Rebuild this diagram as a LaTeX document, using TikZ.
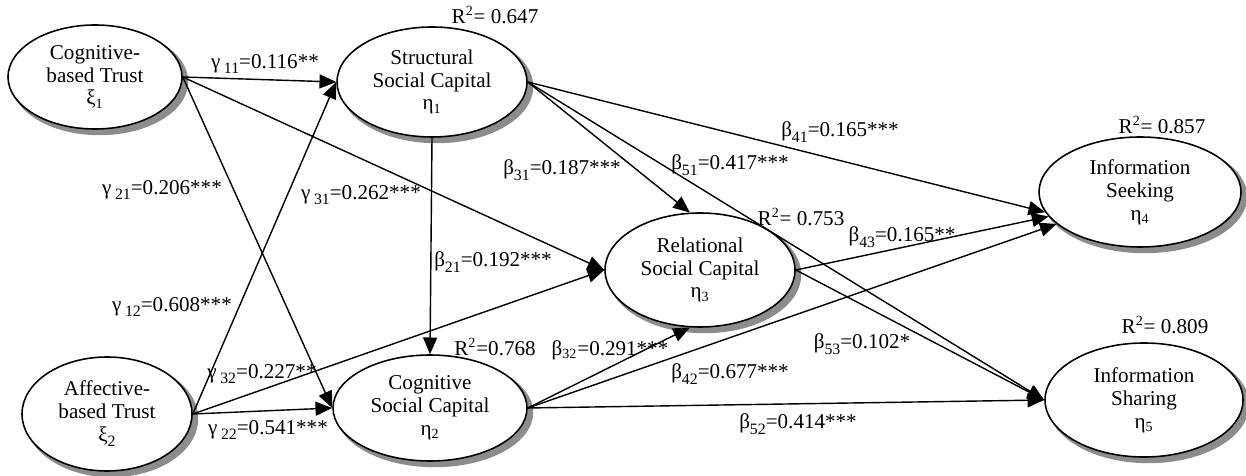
\documentclass[tikz,border=0pt]{standalone}
\usepackage{fontspec}
\setmainfont{Liberation Serif}
\usetikzlibrary{shapes.geometric,arrows.meta,calc,backgrounds}
\newcommand{\lowsub}[1]{\raisebox{-0.55ex}{\fontsize{9}{9}\selectfont #1}}
\begin{document}
\begin{tikzpicture}[font=\fontsize{12}{13}\selectfont, line join=round, >={Triangle[length=9.5pt,width=8pt]},
	latent/.style={ellipse, draw, line width=0.9pt, fill=white, inner sep=0pt, align=center},
	coef/.style={inner sep=0pt}]
	\useasboundingbox (0,0) rectangle (24.92,9.5);
	% latent variables
	\node[latent, minimum width=3.48cm, minimum height=2.08cm] (xi1) at (1.90,7.96) {Cognitive-\\based Trust\\ξ\textsubscript{1}};
	\node[latent, minimum width=3.40cm, minimum height=2.28cm] (xi2) at (2.14,1.22) {Affective-\\based Trust\\ξ\lowsub{2}};
	\node[latent, minimum width=3.80cm, minimum height=2.20cm] (eta1) at (8.64,7.86) {Structural\\Social Capital\\η\textsubscript{1}};
	\node[latent, minimum width=3.88cm, minimum height=2.12cm] (eta2) at (8.60,1.34) {Cognitive\\Social Capital\\η\textsubscript{2}};
	\node[latent, minimum width=3.80cm, minimum height=2.28cm] (eta3) at (14.00,4.10) {Relational\\Social Capital\\η\textsubscript{3}};
	\node[latent, minimum width=4.04cm, minimum height=2.20cm] (eta4) at (22.80,5.66) {Information\\Seeking\\η\textsubscript{4}};
	\node[latent, minimum width=3.96cm, minimum height=2.28cm] (eta5) at (22.88,1.50) {Information\\Sharing\\η\textsubscript{5}};
	% shadows
	\begin{scope}[on background layer]
	\foreach \v in {xi1,xi2,eta1,eta2,eta3,eta4,eta5}
	\fill[black!45] let \p1=(\v.center), \p2=(\v.east), \p3=(\v.north) in
		(\x1+2.6pt,\y1-2.6pt) ellipse ({\x2-\x1+0.5pt} and {\y3-\y1+0.5pt});
	\end{scope}
	% paths
	\foreach \a/\b in {xi1.east/eta1.west, xi1.east/eta2.west, xi1.east/eta3.west,
		xi2.east/eta1.west, xi2.east/eta2.west, xi2.east/eta3.west,
		eta1.south/eta2.north, eta1.east/eta3.100, eta1.east/eta4.192, eta1.east/eta5.west,
		eta2.east/eta3.260, eta2.east/eta4.201, eta2.east/eta5.west,
		eta3.east/eta4.195, eta3.east/eta5.west}
	\draw[->, line width=0.8pt] (\a) -- (\b);
	% coefficients
	\node[coef] (g11) at (5.30,8.22) {γ\,\lowsub{11}=0.116**};
	\node[coef] (g21) at (3.24,5.70) {γ\,\lowsub{21}=0.206***};
	\node[coef] (g31) at (7.22,5.60) {γ\,\lowsub{31}=0.262***};
	\node[coef] (g12) at (3.44,3.36) {γ\,\lowsub{12}=0.608***};
	\node[coef] (g32) at (5.24,2.02) {γ\,\lowsub{32}=0.227**};
	\node[coef] (g22) at (5.36,0.90) {γ\,\lowsub{22}=0.541***};
	\node[coef] (b31) at (11.24,6.10) {β\lowsub{31}=0.187***};
	\node[coef] (b51) at (14.60,6.20) {β\lowsub{51}=0.417***};
	\node[coef] (b41) at (16.80,6.86) {β\lowsub{41}=0.165***};
	\node[coef] (b21) at (9.86,4.26) {β\lowsub{21}=0.192***};
	\node[coef] (b32) at (12.20,2.50) {β\textsubscript{32}=0.291***};
	\node[coef] (b42) at (14.60,2.02) {β\lowsub{42}=0.677***};
	\node[coef] (b52) at (15.96,1.02) {β\lowsub{52}=0.414***};
	\node[coef] (b43) at (18.04,4.76) {β\lowsub{43}=0.165**};
	\node[coef] (b53) at (17.24,2.62) {β\lowsub{53}=0.102*};
	% explained variance
	\node[coef] (r1) at (9.90,9.20) {R\textsuperscript{2}= 0.647};
	\node[coef] (r2) at (9.90,2.56) {R\textsuperscript{2}=0.768};
	\node[coef] (r3) at (16.02,5.16) {R\textsuperscript{2}= 0.753};
	\node[coef] (r4) at (23.24,7.00) {R\textsuperscript{2}= 0.857};
	\node[coef] (r5) at (23.30,3.00) {R\textsuperscript{2}= 0.809};
\end{tikzpicture}
\end{document}
